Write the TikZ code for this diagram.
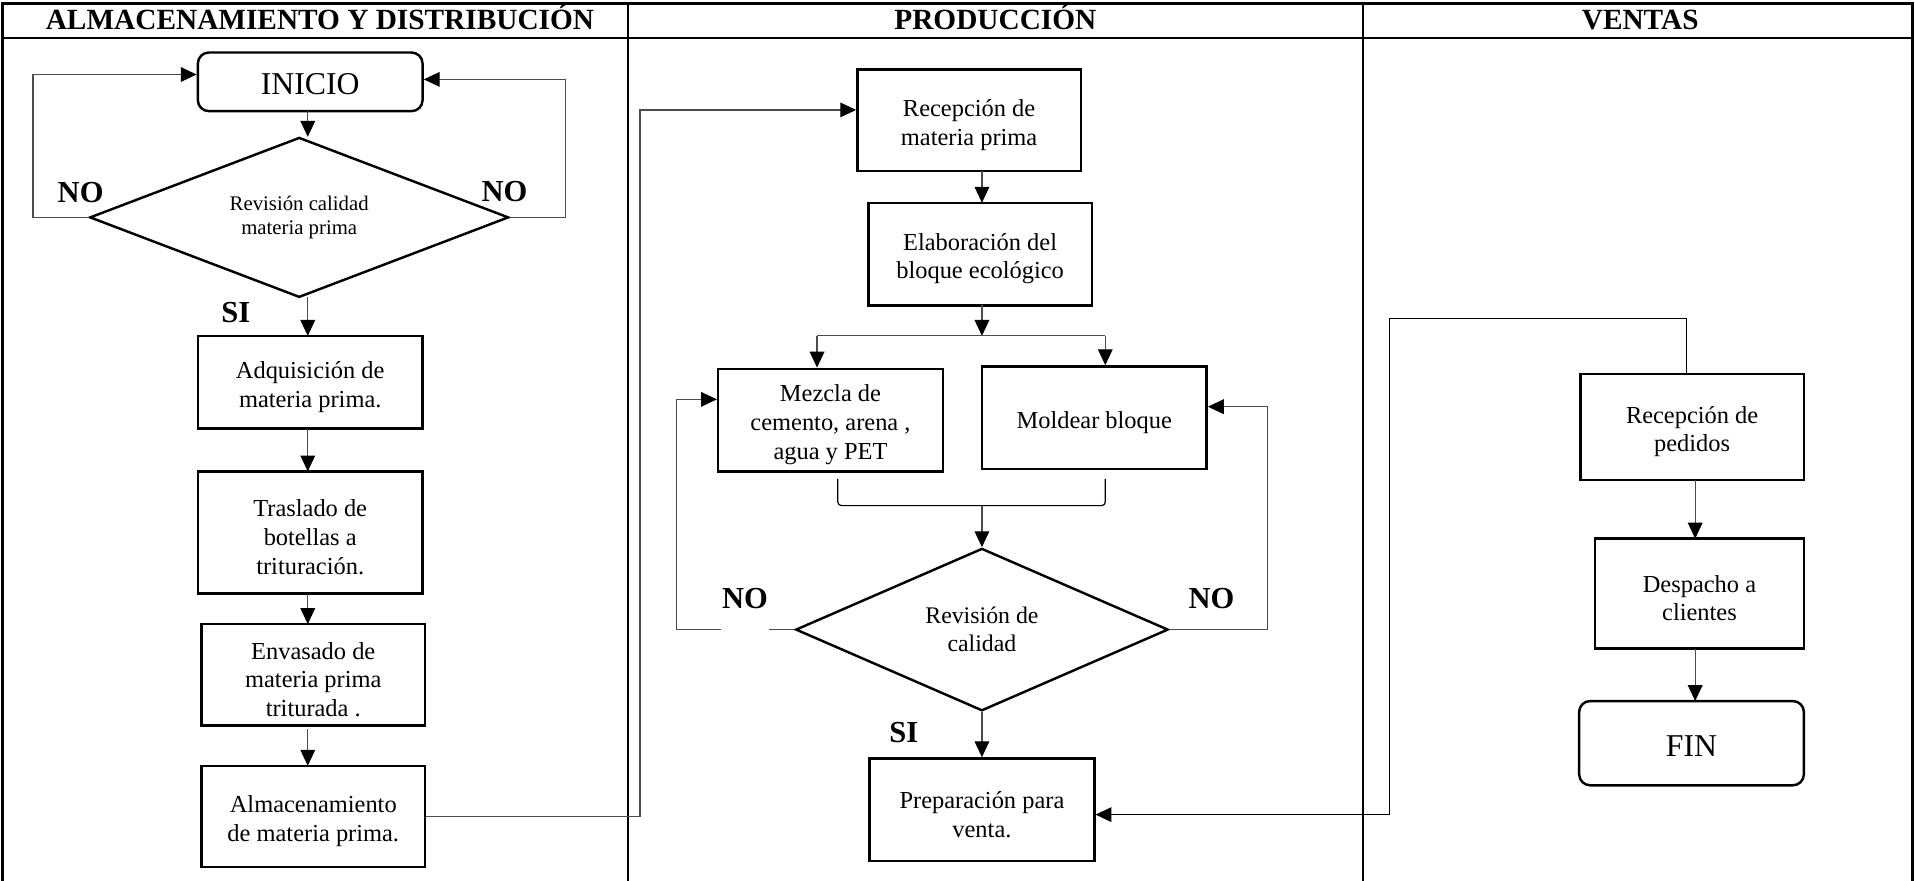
\documentclass[tikz,border=0pt]{standalone}
\usepackage{fontspec}
\setmainfont{Liberation Serif}
\usetikzlibrary{arrows.meta,shapes.geometric}
\newcommand\mystrut{\rule{0pt}{21.5pt}}
\tikzset{
  frame/.style={line width=2pt,black},
  box/.style={draw,line width=2pt,rectangle,align=center,inner sep=0pt,font=\fontsize{20}{23.5}\selectfont},
  term/.style={box,rounded corners=9pt,font=\fontsize{26}{30}\selectfont},
  dec/.style={draw,line width=2pt,diamond,aspect=2.5,inner sep=0pt,align=center},
  conn/.style={line width=1pt,black!70},
  arr/.style={conn,-{Triangle[length=13pt,width=12pt,color=black]}},
  lab/.style={font=\fontsize{25}{28}\selectfont\bfseries},
  head/.style={anchor=base,font=\fontsize{24}{26}\selectfont\bfseries}
}
\begin{document}
\begin{tikzpicture}[x=1pt,y=-1pt]
\useasboundingbox (0,0) rectangle (1568,721);
% frame
\draw[frame] (2,721) -- (2,3) -- (1566,3) -- (1566,721);
\draw[frame] (2,31) -- (1566,31);
\draw[frame] (514,3) -- (514,721);
\draw[frame] (1116,3) -- (1116,721);
\node[head] (h1) at (262,24) {ALMACENAMIENTO Y DISTRIBUCIÓN};
\node[head] (h2) at (815,24) {PRODUCCIÓN};
\node[head] (h3) at (1343,24) {VENTAS};
% column 1
\node[term,minimum width=184pt,minimum height=48pt] (inicio) at (254,67) {\mystrut INICIO};
\node[dec,minimum width=343pt,minimum height=131pt,font=\fontsize{17}{20}\selectfont] (d1) at (245,178) {Revisión calidad\\materia prima};
\node[box,minimum width=184pt,minimum height=76pt] (adq) at (254,313) {\mystrut Adquisición de\\materia prima.};
\node[box,minimum width=184pt,minimum height=100pt] (tras) at (254,436) {\mystrut Traslado de\\botellas a\\trituración.};
\node[box,minimum width=183pt,minimum height=83pt] (env) at (256.5,552.5) {\mystrut Envasado de\\materia prima\\triturada .};
\node[box,minimum width=183pt,minimum height=83pt] (alm) at (256.5,668.5) {\mystrut Almacenamiento\\de materia prima.};
\node[lab] (no1) at (66,158) {NO};
\node[lab] (no2) at (413,157) {NO};
\node[lab] (si1) at (193,256) {SI};
\draw[arr] (252,91) -- (252,112);
\draw[arr] (252,243) -- (252,275);
\draw[arr] (252,351) -- (252,386);
\draw[arr] (252,486) -- (252,511);
\draw[arr] (252,597) -- (252,627);
\coordinate (l1) at (27,178);
\coordinate (l2) at (27,61);
\draw[arr] (d1.west) -- (l1) -- (l2) -- (inicio.west |- l2);
\coordinate (r1) at (463,178);
\coordinate (r2) at (463,65);
\draw[arr] (d1.east) -- (r1) -- (r2) -- (inicio.east |- r2);
% column 2
\node[box,minimum width=183pt,minimum height=83pt] (rec) at (793.5,98.5) {\mystrut Recepción de\\materia prima};
\node[box,minimum width=183pt,minimum height=84pt] (ela) at (802.5,208) {\mystrut Elaboración del\\bloque ecológico};
\node[box,minimum width=184pt,minimum height=84pt] (mez) at (680,344) {\mystrut Mezcla de\\cemento, arena ,\\agua y PET};
\node[box,minimum width=184pt,minimum height=84pt] (mol) at (896,342) {\mystrut Moldear bloque};
\node[dec,minimum width=305pt,minimum height=133pt,font=\fontsize{19.5}{23}\selectfont] (d2) at (804,515.5) {Revisión de\\calidad};
\node[box,minimum width=184pt,minimum height=84pt] (prep) at (804,663) {\mystrut Preparación para\\venta.};
\node[lab] (no3) at (610,490) {NO};
\node[lab] (no4) at (992,490) {NO};
\node[lab] (si2) at (740,600) {SI};
\coordinate (a1) at (524,668.5);
\coordinate (a2) at (524,90);
\draw[arr] (alm.east) -- (a1) -- (a2) -- (rec.west |- a2);
\draw[arr] (804,140) -- (804,166);
\coordinate (br) at (804,275);
\coordinate (bl) at (669,275);
\coordinate (bR) at (905,275);
\draw[arr] (804,250) -- (br);
\draw[conn] (bl) -- (bR);
\draw[arr] (bl) -- (bl |- mez.north);
\draw[arr] (bR) -- (bR |- mol.north);
\coordinate (k1) at (686,392);
\coordinate (k2) at (905,392);
\coordinate (kc) at (804,414);
\draw[line width=1pt,rounded corners=3pt] (k1) -- (686,414) -- (905,414) -- (k2);
\draw[arr] (kc) -- (d2.north);
\coordinate (n1) at (630,515.5);
\coordinate (n2) at (590,515.5);
\coordinate (n3) at (554,515.5);
\coordinate (n4) at (554,327);
\draw[conn] (d2.west) -- (n1);
\draw[arr] (n2) -- (n3) -- (n4) -- (mez.west |- n4);
\coordinate (m1) at (1038,515.5);
\coordinate (m2) at (1038,333);
\draw[arr] (d2.east) -- (m1) -- (m2) -- (mol.east |- m2);
\draw[arr] (d2.south) -- (prep.north);
% column 3
\node[box,minimum width=183pt,minimum height=87pt] (rp) at (1385.5,349.5) {\mystrut Recepción de\\pedidos};
\node[box,minimum width=171pt,minimum height=90pt] (desp) at (1391.5,486) {\mystrut Despacho a\\clientes};
\node[term,minimum width=184pt,minimum height=69pt] (fin) at (1385,608.5) {\mystrut FIN};
\draw[arr] (1388,393) -- (1388,441);
\draw[arr] (1388,531) -- (1388,574);
\coordinate (p1) at (1381,261);
\coordinate (p2) at (1138,261);
\coordinate (p3) at (1138,667);
\draw[arr,black] (rp.north -| p1) -- (p1) -- (p2) -- (p3) -- (prep.east |- p3);
\end{tikzpicture}
\end{document}
